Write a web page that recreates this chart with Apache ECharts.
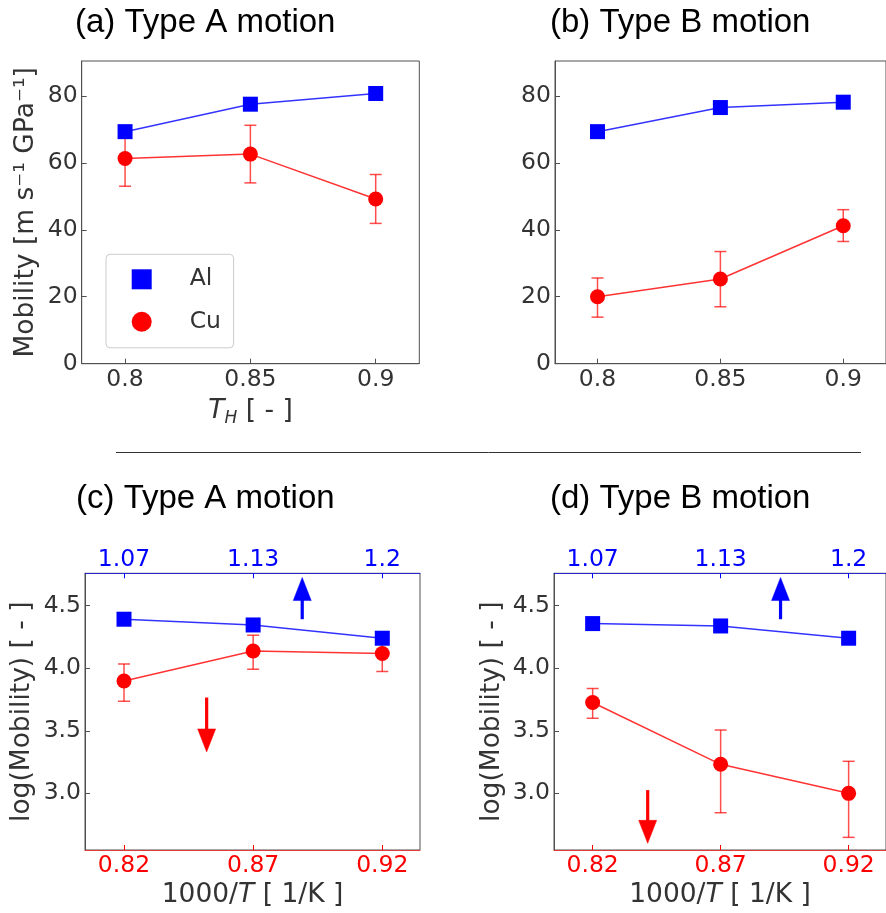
<!DOCTYPE html>
<html>
<head>
<meta charset="utf-8">
<script src="https://cdn.jsdelivr.net/npm/echarts@6/dist/echarts.min.js"></script>
<style>
  html, body { margin: 0; padding: 0; background: #ffffff; }
  #chart { width: 886px; height: 913px; }
</style>
</head>
<body>
<div id="chart"></div>
<script>
// ---- reduced temperature T_H (panels a, b) ----
const thValues = [0.8, 0.85, 0.9];
const thTickLabels = ['0.8', '0.85', '0.9'];
const mobilityTicks = [0, 20, 40, 60, 80];

// (a) Type A motion, mobility [m s^-1 GPa^-1]
const alMobilityA = [69.3, 77.5, 80.7];
const cuMobilityA = [61.3, 62.6, 49.2];
const cuLowA = [53.0, 54.0, 41.9];
const cuHighA = [69.6, 71.2, 56.5];

// (b) Type B motion
const alMobilityB = [69.3, 76.5, 78.1];
const cuMobilityB = [20.0, 25.3, 41.2];
const cuLowB = [13.9, 17.0, 36.5];
const cuHighB = [25.6, 33.5, 46.0];

// ---- inverse temperature 1000/T (panels c, d) ----
const invTValues = [0.82, 0.87, 0.92];          // Cu scale, bottom axis
const invTTopLabels = ['1.07', '1.13', '1.2'];  // Al scale, top axis
const logTicks = [3.0, 3.5, 4.0, 4.5];

// (c) Type A motion, log(mobility)
const alLogC = [4.392, 4.346, 4.240];
const cuLogC = [3.898, 4.138, 4.118];
const cuLogLowC = [3.736, 3.992, 3.974];
const cuLogHighC = [4.034, 4.264, 4.240];

// (d) Type B motion
const alLogD = [4.357, 4.338, 4.240];
const cuLogD = [3.726, 3.232, 3.000];
const cuLogLowD = [3.600, 2.845, 2.648];
const cuLogHighD = [3.838, 3.506, 3.256];

// arrows telling which axis each series belongs to: [x, tail y, tip y]
const arrowAlC = [0.889, 4.392, 4.725];
const arrowCuC = [0.852, 3.766, 3.331];
const arrowAlD = [0.8934, 4.392, 4.725];
const arrowCuD = [0.8415, 3.026, 2.600];

// ---- styling ----
const BLUE = '#0000ff';
const RED = '#ff0000';
const SPINE = '#505050';
const TEXT = '#333333';
const FONT = 'DejaVu Sans';
const TICK_FS = 23.5;
const NAME_FS = 26.5;

const pairs = (xs, ys) => xs.map((x, i) => [x, ys[i]]);
const triples = (xs, lo, hi) => xs.map((x, i) => [x, lo[i], hi[i]]);

function errorBarRender(params, api) {
  const x = api.value(0);
  const pLo = api.coord([x, api.value(1)]);
  const pHi = api.coord([x, api.value(2)]);
  const cap = 6;
  const style = { stroke: 'rgba(255,0,0,0.7)', lineWidth: 1.5 };
  return {
    type: 'group',
    children: [
      { type: 'line', shape: { x1: pLo[0], y1: pLo[1], x2: pHi[0], y2: pHi[1] }, style },
      { type: 'line', shape: { x1: pLo[0] - cap, y1: pLo[1], x2: pLo[0] + cap, y2: pLo[1] }, style },
      { type: 'line', shape: { x1: pHi[0] - cap, y1: pHi[1], x2: pHi[0] + cap, y2: pHi[1] }, style }
    ]
  };
}

function arrowRender(color) {
  return function (params, api) {
    const x = api.value(0);
    const tail = api.coord([x, api.value(1)]);
    const tip = api.coord([x, api.value(2)]);
    const dir = tip[1] < tail[1] ? -1 : 1;
    const headLen = 23, headHalf = 9;
    const baseY = tip[1] - dir * headLen;
    return {
      type: 'group',
      children: [
        { type: 'line', shape: { x1: tail[0], y1: tail[1], x2: tail[0], y2: baseY + dir * 4 },
          style: { stroke: color, lineWidth: 3.2 } },
        { type: 'polygon', shape: { points: [[tip[0], tip[1]], [tip[0] - headHalf, baseY], [tip[0] + headHalf, baseY]] },
          style: { fill: color, stroke: color, lineWidth: 0.5 } }
      ]
    };
  };
}

function lineSeries(name, data, color, symbol, xi, yi, z) {
  return {
    type: 'line', name, data, xAxisIndex: xi, yAxisIndex: yi,
    symbol, symbolSize: 15, showSymbol: true, z,
    itemStyle: { color, opacity: 1 },
    lineStyle: { color, width: 1.5, opacity: 0.8 },
    emphasis: { disabled: true },
    animation: false
  };
}

function errSeries(data, xi, yi) {
  return { type: 'custom', data, xAxisIndex: xi, yAxisIndex: yi, renderItem: errorBarRender, z: 3, silent: true, animation: false };
}

function arrowSeries(data, color, xi, yi) {
  return { type: 'custom', data: [data], xAxisIndex: xi, yAxisIndex: yi, renderItem: arrowRender(color), z: 6, silent: true, animation: false };
}

const labelBase = { fontFamily: FONT, fontSize: TICK_FS, color: TEXT };

function xAxisTH(gridIndex, withName) {
  return {
    type: 'value', gridIndex, position: 'bottom', min: 0.7827, max: 0.9174,
    axisLine: { show: true, lineStyle: { color: SPINE, width: 1 } },
    axisTick: { show: true, inside: true, length: 5, customValues: thValues, lineStyle: { color: SPINE } },
    axisLabel: Object.assign({ margin: 4, customValues: thValues,
      formatter: v => thTickLabels[thValues.findIndex(t => Math.abs(t - v) < 1e-9)] }, labelBase),
    splitLine: { show: false },
    name: withName ? '{it|T}{sub|H}{n| [ - ]}' : '',
    nameLocation: 'middle', nameGap: 31,
    nameTextStyle: {
      fontFamily: FONT, fontSize: NAME_FS, color: TEXT,
      rich: {
        it: { fontFamily: FONT, fontSize: NAME_FS, fontStyle: 'italic', color: TEXT, lineHeight: 32 },
        sub: { fontFamily: FONT, fontSize: 17, fontStyle: 'italic', color: TEXT, lineHeight: 32, verticalAlign: 'bottom' },
        n: { fontFamily: FONT, fontSize: NAME_FS, color: TEXT, lineHeight: 32 }
      }
    }
  };
}

function yAxisMob(gridIndex, withName) {
  return {
    type: 'value', gridIndex, position: 'left', min: 0, max: 90.4,
    axisLine: { show: true, lineStyle: { color: SPINE, width: 1 } },
    axisTick: { show: true, inside: true, length: 5, customValues: mobilityTicks, lineStyle: { color: SPINE } },
    axisLabel: Object.assign({ margin: 4, customValues: mobilityTicks }, labelBase),
    splitLine: { show: false },
    name: withName ? 'Mobility [m s⁻¹ GPa⁻¹]' : '',
    nameLocation: 'middle', nameGap: 42,
    nameTextStyle: { fontFamily: FONT, fontSize: NAME_FS, color: TEXT }
  };
}

function xAxisInvBottom(gridIndex) {
  return {
    type: 'value', gridIndex, position: 'bottom', min: 0.8049, max: 0.9346,
    axisLine: { show: true, lineStyle: { color: 'rgba(255,0,0,0.65)', width: 1.2 } },
    axisTick: { show: true, inside: true, length: 5, customValues: invTValues, lineStyle: { color: RED } },
    axisLabel: { margin: 4, customValues: invTValues, fontFamily: FONT, fontSize: TICK_FS, color: RED,
      formatter: v => v.toFixed(2) },
    splitLine: { show: false },
    name: '{n|1000/}{it|T}{n| [ 1/K ]}',
    nameLocation: 'middle', nameGap: 32,
    nameTextStyle: {
      fontFamily: FONT, fontSize: NAME_FS, color: TEXT,
      rich: {
        it: { fontFamily: FONT, fontSize: NAME_FS, fontStyle: 'italic', color: TEXT },
        n: { fontFamily: FONT, fontSize: NAME_FS, color: TEXT }
      }
    }
  };
}

function xAxisInvTop(gridIndex) {
  return {
    type: 'value', gridIndex, position: 'top', min: 0.8049, max: 0.9346,
    axisLine: { show: true, lineStyle: { color: 'rgba(0,0,255,0.65)', width: 1.2 } },
    axisTick: { show: true, inside: true, length: 5, customValues: invTValues, lineStyle: { color: BLUE } },
    axisLabel: { margin: 1, customValues: invTValues, fontFamily: FONT, fontSize: TICK_FS, color: BLUE,
      formatter: v => invTTopLabels[invTValues.findIndex(t => Math.abs(t - v) < 1e-9)] },
    splitLine: { show: false }
  };
}

function yAxisLog(gridIndex, nameGap) {
  return {
    type: 'value', gridIndex, position: 'left', min: 2.547, max: 4.759,
    axisLine: { show: true, lineStyle: { color: SPINE, width: 1 } },
    axisTick: { show: true, inside: true, length: 5, customValues: logTicks, lineStyle: { color: SPINE } },
    axisLabel: Object.assign({ margin: 4, customValues: logTicks, formatter: v => v.toFixed(1) }, labelBase),
    splitLine: { show: false },
    name: 'log(Mobility) [ - ]',
    nameLocation: 'middle', nameGap,
    nameTextStyle: { fontFamily: FONT, fontSize: NAME_FS, color: TEXT }
  };
}

const gridBase = { show: true, borderColor: SPINE, borderWidth: 1, backgroundColor: 'transparent' };

const titleStyle = { font: '33px "Liberation Sans"', fill: '#000000', verticalAlign: 'middle', align: 'left' };

const option = {
  backgroundColor: '#ffffff',
  animation: false,
  grid: [
    Object.assign({ left: 81.7, top: 61, width: 337.6, height: 302.7 }, gridBase),
    Object.assign({ left: 555, top: 61, width: 337.6, height: 302.7 }, gridBase),
    Object.assign({ left: 85, top: 573.3, width: 335, height: 276.7 }, gridBase),
    Object.assign({ left: 554, top: 573.3, width: 335, height: 276.7 }, gridBase)
  ],
  xAxis: [
    xAxisTH(0, true),
    xAxisTH(1, false),
    xAxisInvBottom(2),
    xAxisInvTop(2),
    xAxisInvBottom(3),
    xAxisInvTop(3)
  ],
  yAxis: [
    yAxisMob(0, true),
    yAxisMob(1, false),
    yAxisLog(2, 49),
    yAxisLog(3, 48)
  ],
  legend: {
    left: 106, top: 254.3, orient: 'vertical',
    padding: [13, 12.6, 14, 25.7],
    itemWidth: 20, itemHeight: 20, itemGap: 18.5,
    borderColor: '#cccccc', borderWidth: 1, borderRadius: 4,
    backgroundColor: 'rgba(255,255,255,0.8)',
    selectedMode: false,
    textStyle: { fontFamily: FONT, fontSize: TICK_FS, color: TEXT, padding: [0, 0, 0, 33] },
    data: [{ name: 'Al', icon: 'rect' }, { name: 'Cu', icon: 'circle' }]
  },
  series: [
    // (a)
    errSeries(triples(thValues, cuLowA, cuHighA), 0, 0),
    lineSeries('Cu', pairs(thValues, cuMobilityA), RED, 'circle', 0, 0, 4),
    lineSeries('Al', pairs(thValues, alMobilityA), BLUE, 'rect', 0, 0, 5),
    // (b)
    errSeries(triples(thValues, cuLowB, cuHighB), 1, 1),
    lineSeries('Cu', pairs(thValues, cuMobilityB), RED, 'circle', 1, 1, 4),
    lineSeries('Al', pairs(thValues, alMobilityB), BLUE, 'rect', 1, 1, 5),
    // (c)
    errSeries(triples(invTValues, cuLogLowC, cuLogHighC), 2, 2),
    lineSeries('Cu', pairs(invTValues, cuLogC), RED, 'circle', 2, 2, 4),
    lineSeries('Al', pairs(invTValues, alLogC), BLUE, 'rect', 3, 2, 5),
    arrowSeries(arrowAlC, BLUE, 3, 2),
    arrowSeries(arrowCuC, RED, 2, 2),
    // (d)
    errSeries(triples(invTValues, cuLogLowD, cuLogHighD), 4, 3),
    lineSeries('Cu', pairs(invTValues, cuLogD), RED, 'circle', 4, 3, 4),
    lineSeries('Al', pairs(invTValues, alLogD), BLUE, 'rect', 5, 3, 5),
    arrowSeries(arrowAlD, BLUE, 5, 3),
    arrowSeries(arrowCuD, RED, 4, 3)
  ],
  graphic: [
    { type: 'text', left: 75, top: 6, style: Object.assign({ text: '(a) Type A motion' }, titleStyle) },
    { type: 'text', left: 550, top: 6, style: Object.assign({ text: '(b) Type B motion' }, titleStyle) },
    { type: 'text', left: 76, top: 482, style: Object.assign({ text: '(c) Type A motion' }, titleStyle) },
    { type: 'text', left: 550, top: 482, style: Object.assign({ text: '(d) Type B motion' }, titleStyle) },
    { type: 'line', shape: { x1: 116, y1: 452.5, x2: 861, y2: 452.5 }, style: { stroke: '#333333', lineWidth: 1 } }
  ]
};

const chart = echarts.init(document.getElementById('chart'), null, { renderer: 'canvas' });
chart.setOption(option);
</script>
</body>
</html>
